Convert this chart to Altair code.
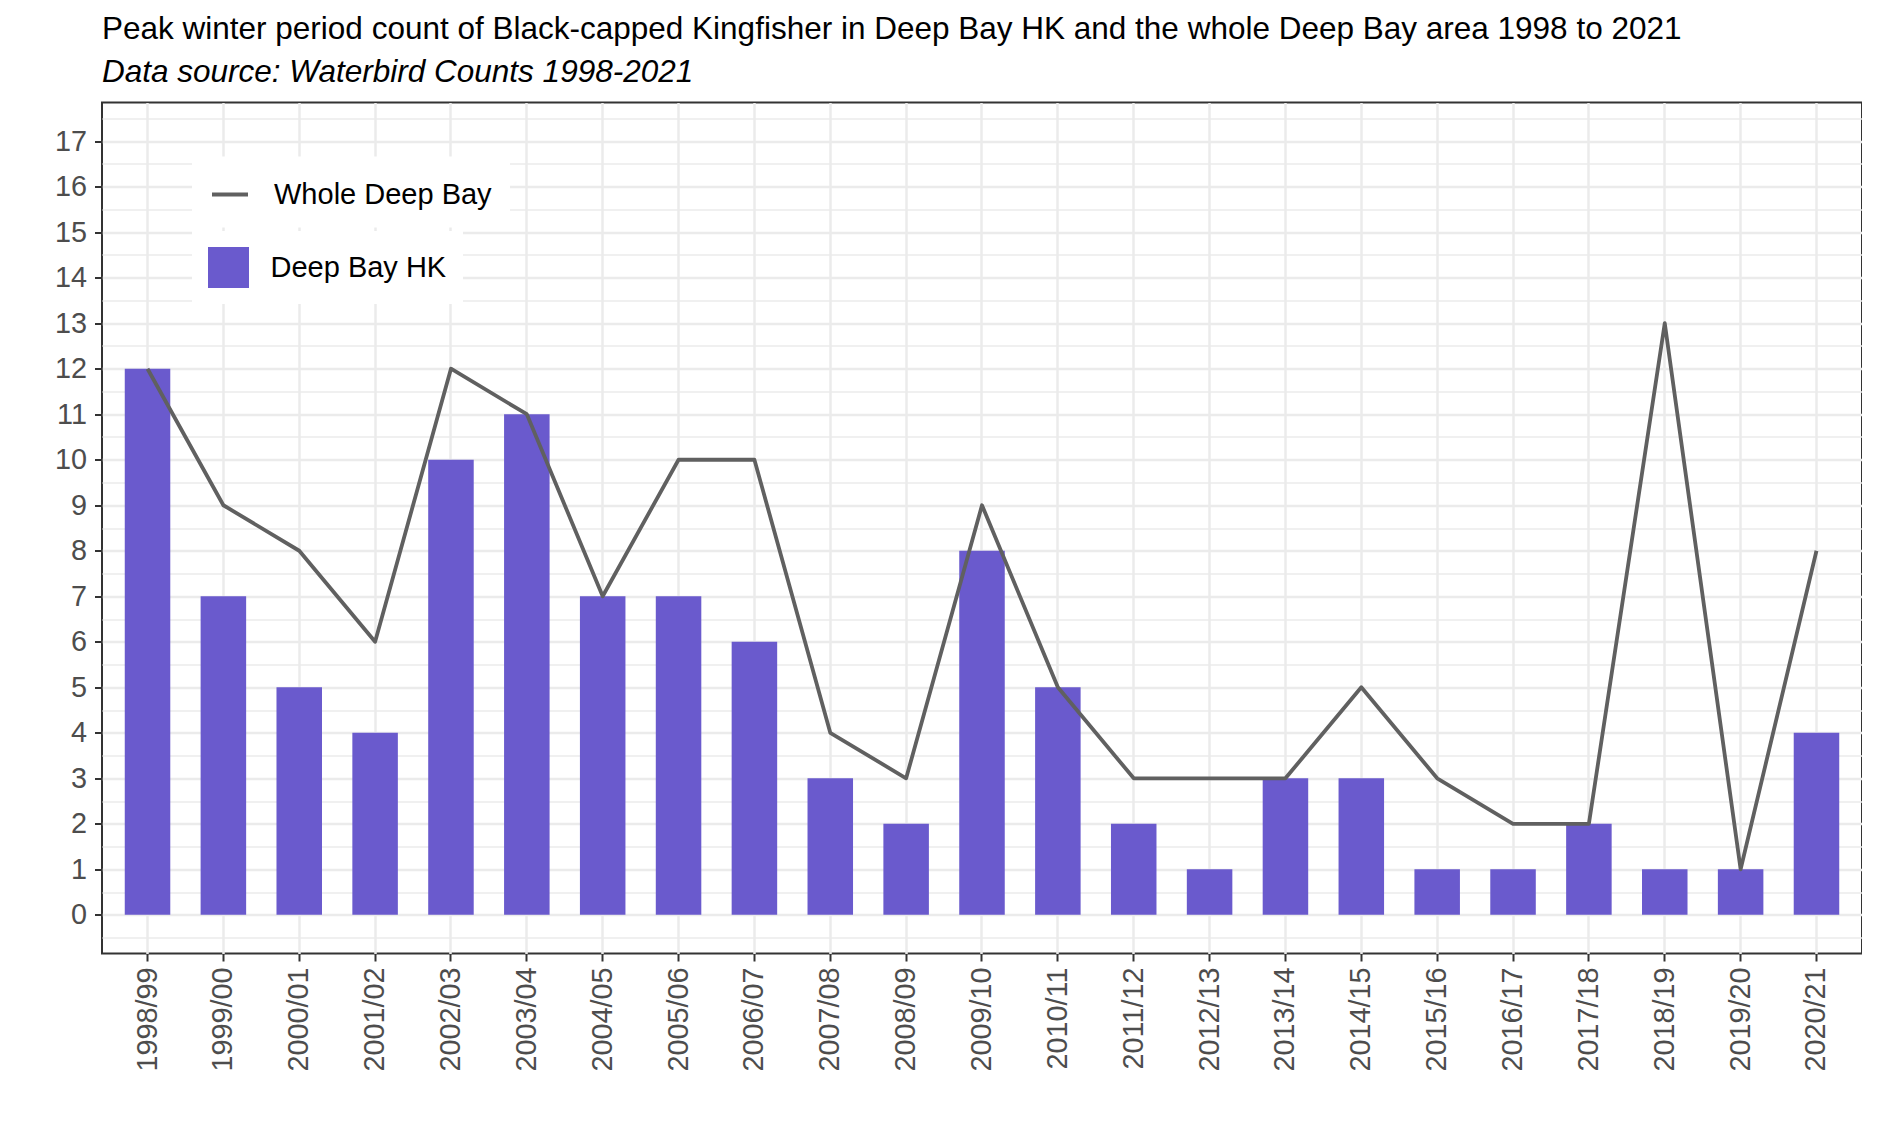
import altair as alt
import pandas as pd

seasons = ["1998/99", "1999/00", "2000/01", "2001/02", "2002/03", "2003/04",
           "2004/05", "2005/06", "2006/07", "2007/08", "2008/09", "2009/10",
           "2010/11", "2011/12", "2012/13", "2013/14", "2014/15", "2015/16",
           "2016/17", "2017/18", "2018/19", "2019/20", "2020/21"]
deep_bay_hk = [12, 7, 5, 4, 10, 11, 7, 7, 6, 3, 2, 8, 5, 2, 1, 3, 3, 1, 1, 2, 1, 1, 4]
whole_deep_bay = [12, 9, 8, 6, 12, 11, 7, 10, 10, 4, 3, 9, 5, 3, 3, 3, 5, 3, 2, 2, 13, 1, 8]
y_ticks = [0, 1, 2, 3, 4, 5, 6, 7, 8, 9, 10, 11, 12, 13, 14, 15, 16, 17]
y_minor = [-0.5, 0.5, 1.5, 2.5, 3.5, 4.5, 5.5, 6.5, 7.5, 8.5, 9.5, 10.5, 11.5,
           12.5, 13.5, 14.5, 15.5, 16.5, 17.5]
bar_name = "Deep Bay HK"
line_name = "Whole Deep Bay"

FONT = "Liberation Sans"
BAR_COL = "#6A5ACD"
LINE_COL = "#606060"
GRID = "#EBEBEB"

df = pd.DataFrame({
    "season": seasons,
    "hk": deep_bay_hk,
    "whole": whole_deep_bay,
    "hk_label": [bar_name] * len(seasons),
    "whole_label": [line_name] * len(seasons),
})

yscale = alt.Scale(domain=[-0.85, 17.85], nice=False, zero=False)

x_enc = alt.X(
    "season:N", sort=seasons, title=None,
    scale=alt.Scale(paddingInner=0.4, paddingOuter=0.3),
    axis=alt.Axis(labelAngle=270, labelFontSize=28.8, labelColor="#4D4D4D",
                  labelFont=FONT, labelPadding=6, tickColor="#333333",
                  tickWidth=2, tickSize=7.5, grid=True, gridColor=GRID,
                  gridWidth=2.5, domain=False),
)

bars = alt.Chart(df).mark_bar().encode(
    x=x_enc,
    y=alt.Y("hk:Q", scale=yscale, title=None,
            axis=alt.Axis(values=y_ticks, labelFontSize=28.8, labelColor="#4D4D4D",
                          labelFont=FONT, labelPadding=8, tickColor="#333333",
                          tickWidth=2, tickSize=7.5, grid=True, gridColor=GRID,
                          gridWidth=2.5, domain=False, minExtent=94, maxExtent=94)),
    y2=alt.datum(0),
    fill=alt.Fill("hk_label:N",
                  scale=alt.Scale(domain=[bar_name], range=[BAR_COL]),
                  legend=alt.Legend(title=None, orient="none", legendX=90, legendY=128.5,
                                    symbolType="square", symbolSize=1681,
                                    symbolStrokeWidth=0, labelFontSize=29,
                                    labelFont=FONT, labelColor="black",
                                    labelOffset=21.5, labelLimit=500, padding=16,
                                    fillColor="white")),
)

line = alt.Chart(df).mark_line(strokeWidth=3.8, strokeJoin="round").encode(
    x=alt.X("season:N", sort=seasons, bandPosition=0.5),
    y=alt.Y("whole:Q", scale=yscale, title=None,
            axis=alt.Axis(orient="right", values=y_minor, grid=True, gridColor=GRID,
                          gridWidth=1.3, labels=False, ticks=False, domain=False,
                          minExtent=0, maxExtent=0)),
    stroke=alt.Stroke("whole_label:N",
                      scale=alt.Scale(domain=[line_name], range=[LINE_COL]),
                      legend=alt.Legend(title=None, orient="none", legendX=90, legendY=54,
                                        symbolType="stroke", symbolSize=1296,
                                        symbolStrokeWidth=4, labelFontSize=29,
                                        labelFont=FONT, labelColor="black",
                                        labelOffset=24, labelLimit=500, padding=18,
                                        fillColor="white")),
)

chart = alt.layer(bars, line).resolve_axis(y="independent").properties(
    width=1760, height=851,
    padding={"left": 0, "top": 5.5, "right": 0, "bottom": 0},
    title=alt.TitleParams(
        text="Peak winter period count of Black-capped Kingfisher in Deep Bay HK and the whole Deep Bay area 1998 to 2021",
        subtitle="Data source: Waterbird Counts 1998-2021",
        anchor="start", frame="group", fontSize=31.5, font=FONT, fontWeight="normal",
        color="black", subtitleFont=FONT, subtitleFontSize=31.5,
        subtitleFontStyle="italic", subtitleColor="black", subtitlePadding=11.5,
        offset=14.5),
).configure_view(stroke="#333333", strokeWidth=2)

chart.save("out.html", embed_options={"renderer": "svg", "actions": False})
